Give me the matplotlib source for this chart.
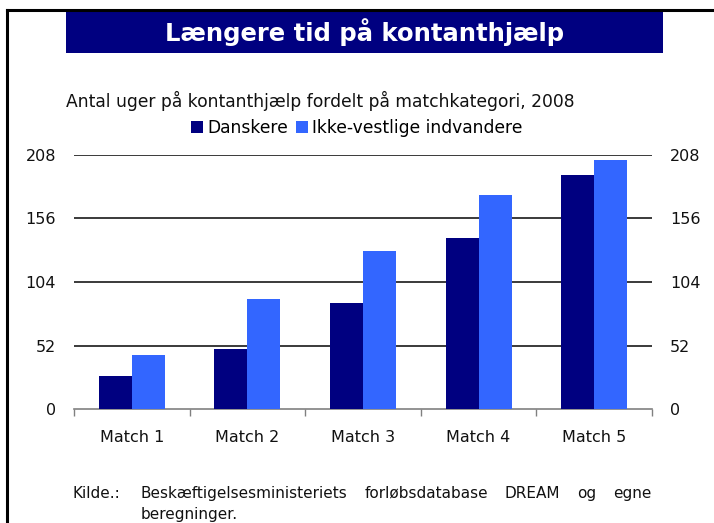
import matplotlib
matplotlib.use("Agg")
import matplotlib.pyplot as plt
from matplotlib.patches import Rectangle
from matplotlib.lines import Line2D
import numpy as np

categories = ["Match 1", "Match 2", "Match 3", "Match 4", "Match 5"]
danskere = [27, 49, 87, 140, 192]
ikke_vestlige = [44, 90, 129, 175, 204]
yticks = [0, 52, 104, 156, 208]
series_names = ["Danskere", "Ikke-vestlige indvandere"]
colors = ["#000080", "#3366FF"]

title = "Længere tid på kontanthjælp"
subtitle = "Antal uger på kontanthjælp fordelt på matchkategori, 2008"
source_label = "Kilde.:"
source_line1 = "Beskæftigelsesministeriets forløbsdatabase DREAM og egne"
source_line2 = "beregninger."

plt.rcParams['font.family'] = ['DejaVu Sans']

W, H = 714, 523
fig = plt.figure(figsize=(W/100, H/100), dpi=100)

# frame lines (left and top)
fig.add_artist(Line2D([7/W, 7/W], [0, 1 - 10/H], transform=fig.transFigure, color="black", lw=2.2))
fig.add_artist(Line2D([7/W, 1], [1 - 10/H, 1 - 10/H], transform=fig.transFigure, color="black", lw=2.2))

# title box
fig.add_artist(Rectangle((66/W, 1 - 53/H), 597/W, 42/H, transform=fig.transFigure,
                         facecolor="#000080", edgecolor="none"))
fig.text(365/W, 1 - 32/H, title, color="white", fontsize=17.5, fontweight="bold",
         ha="center", va="center")

fig.text(66/W, 1 - 101/H, subtitle, fontsize=12.3, ha="left", va="center", color="#111111")

ax = fig.add_axes([74/W, 1 - 409/H, 578/W, 254/H])
x = np.arange(len(categories))
w = 0.285
b1 = ax.bar(x - w/2, danskere, w, color=colors[0], label=series_names[0], zorder=3)
b2 = ax.bar(x + w/2, ikke_vestlige, w, color=colors[1], label=series_names[1], zorder=3)

ax.set_xlim(-0.5, len(categories) - 0.5)
ax.set_ylim(0, 208)
ax.set_yticks(yticks)
ax.set_yticklabels([str(v) for v in yticks])
for v in yticks[1:]:
    ax.axhline(v, color="#3a3a3a", lw=1.4, zorder=1)

ax.tick_params(axis="y", length=0, labelsize=11.5, pad=13, labelright=True, right=False,
               labelcolor="#111111")
ax.set_xticks(x)
ax.set_xticklabels(categories)
ax.set_xticks(np.arange(-0.5, len(categories)), minor=True)
ax.tick_params(axis="x", which="major", length=0, labelsize=11.5, pad=15, labelcolor="#111111")
ax.tick_params(axis="x", which="minor", length=5, width=1, color="#808080", direction="out")

for s in ["left", "right", "top"]:
    ax.spines[s].set_visible(False)
ax.spines["bottom"].set_color("#808080")
ax.spines["bottom"].set_linewidth(1.2)

leg = fig.legend(handles=[b1, b2], labels=series_names, loc="center",
                 bbox_to_anchor=(357/W, 1 - 128/H), ncol=2, frameon=False,
                 fontsize=12.3, handlelength=0.7, handleheight=0.7, handletextpad=0.25,
                 columnspacing=0.45, borderaxespad=0)

# source text (first line justified between x0 and x1)
y1 = 1 - 498/H
y2 = 1 - 519/H
fs = 11
fig.text(73/W, y1, source_label, fontsize=fs, ha="left", va="baseline", color="#111111")
x0, x1 = 141, 651
words = source_line1.split(" ")
texts = [fig.text(x0/W, y1, wd, fontsize=fs, ha="left", va="baseline", color="#111111") for wd in words]
renderer = fig.canvas.get_renderer()
widths = [t.get_window_extent(renderer=renderer).width for t in texts]
gap = (x1 - x0 - sum(widths)) / (len(words) - 1)
cx = x0
for t, wd in zip(texts, widths):
    t.set_x(cx / W)
    cx += wd + gap
fig.text(x0/W, y2, source_line2, fontsize=fs, ha="left", va="baseline", color="#111111")

fig.savefig("out.png", dpi=100)
